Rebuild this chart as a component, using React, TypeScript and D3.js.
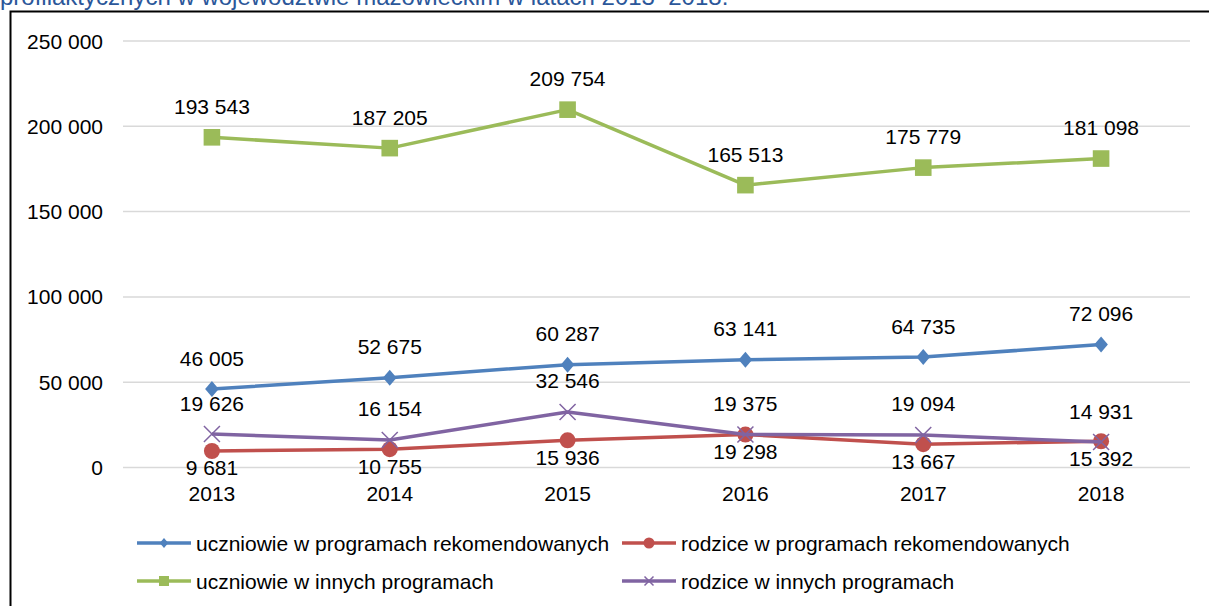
import React from 'react';
import * as d3 from 'd3';

const years = ['2013', '2014', '2015', '2016', '2017', '2018'];
const uczniowieRekom = [46005, 52675, 60287, 63141, 64735, 72096];
const rodziceRekom = [9681, 10755, 15936, 19298, 13667, 15392];
const uczniowieInne = [193543, 187205, 209754, 165513, 175779, 181098];
const rodziceInne = [19626, 16154, 32546, 19375, 19094, 14931];
const yTicks = [0, 50000, 100000, 150000, 200000, 250000];

const series = [
  { name: 'uczniowie w programach rekomendowanych', values: uczniowieRekom, color: '#4F81BD', marker: 'diamond', label: 'above' },
  { name: 'rodzice w programach rekomendowanych', values: rodziceRekom, color: '#C0504D', marker: 'circle', label: 'below' },
  { name: 'uczniowie w innych programach', values: uczniowieInne, color: '#9BBB59', marker: 'square', label: 'above' },
  { name: 'rodzice w innych programach', values: rodziceInne, color: '#8064A2', marker: 'x', label: 'above' },
];

const W = 1209;
const H = 606;
const FONT = '"Liberation Sans", Arial, sans-serif';

// thousands separated by a space, like the source
const fmt = (v: number) => d3.format(',')(v).replace(/,/g, ' ');

const Marker = ({ type, x, y, s, color }: { type: string; x: number; y: number; s: number; color: string }) => {
  if (type === 'diamond') {
    const w = s * 0.85;
    return <path d={`M${x},${y - s} L${x + w},${y} L${x},${y + s} L${x - w},${y} Z`} fill={color} />;
  }
  if (type === 'circle') return <circle cx={x} cy={y} r={s} fill={color} />;
  if (type === 'square') return <rect x={x - s} y={y - s} width={s * 2} height={s * 2} fill={color} />;
  return (
    <path
      d={`M${x - s},${y - s} L${x + s},${y + s} M${x - s},${y + s} L${x + s},${y - s}`}
      stroke={color}
      strokeWidth={1.5}
      fill="none"
    />
  );
};

const markerSize: Record<string, number> = { diamond: 8, circle: 8, square: 8.3, x: 8 };
const legendSize: Record<string, number> = { diamond: 5, circle: 5.5, square: 5, x: 4.5 };

export default function App() {
  const x = d3.scaleBand<string>().domain(years).range([123, 1190]);
  const cx = (d: string) => (x(d) ?? 0) + x.bandwidth() / 2;
  const y = d3.scaleLinear().domain([0, 250000]).range([467.5, 41]);

  const line = d3
    .line<number>()
    .x((_, i) => cx(years[i]))
    .y((v) => y(v));

  const legendItems = [
    { s: series[0], lx: 137, ly: 543 },
    { s: series[1], lx: 622, ly: 543 },
    { s: series[2], lx: 137, ly: 581 },
    { s: series[3], lx: 622, ly: 581 },
  ];

  return (
    <svg
      width={W}
      height={H}
      style={{ position: 'absolute', left: 0, top: 0, background: '#fff' }}
      fontFamily={FONT}
    >
      <rect width={W} height={H} fill="#fff" />
      {/* cut-off caption from the page above */}
      <text x={0} y={5} fontSize={24} fill="#2B579A">
        profilaktycznych w województwie mazowieckim w latach 2013–2018.
      </text>

      {/* frame */}
      <path d={`M10.5,${H} L10.5,11.5 L${W},11.5`} stroke="#000" strokeWidth={2} fill="none" />

      {/* grid + y labels */}
      {yTicks.map((t) => (
        <g key={t}>
          <line x1={123} x2={1190} y1={y(t)} y2={y(t)} stroke="#D9D9D9" strokeWidth={1.5} />
          <text x={103} y={y(t)} fontSize={21} textAnchor="end" dominantBaseline="central" fill="#000">
            {fmt(t)}
          </text>
        </g>
      ))}

      {/* x labels */}
      {years.map((yr) => (
        <text key={yr} x={cx(yr)} y={493} fontSize={21} textAnchor="middle" dominantBaseline="central" fill="#000">
          {yr}
        </text>
      ))}

      {/* lines and markers */}
      {series.map((s) => (
        <g key={s.name}>
          <path d={line(s.values) ?? ''} fill="none" stroke={s.color} strokeWidth={3.5} strokeLinejoin="round" />
          {s.values.map((v, i) => (
            <Marker key={i} type={s.marker} x={cx(years[i])} y={y(v)} s={markerSize[s.marker]} color={s.color} />
          ))}
        </g>
      ))}

      {/* data labels */}
      {series.map((s) =>
        s.values.map((v, i) => (
          <text
            key={s.name + i}
            x={cx(years[i])}
            y={y(v) + (s.label === 'above' ? -31 : 17)}
            fontSize={21}
            textAnchor="middle"
            dominantBaseline="central"
            fill="#000"
          >
            {fmt(v)}
          </text>
        ))
      )}

      {/* legend */}
      {legendItems.map(({ s, lx, ly }) => (
        <g key={s.name}>
          <line x1={lx} x2={lx + 54} y1={ly} y2={ly} stroke={s.color} strokeWidth={3.5} />
          <Marker type={s.marker} x={lx + 27} y={ly} s={legendSize[s.marker]} color={s.color} />
          <text x={lx + 59} y={ly} fontSize={21} dominantBaseline="central" fill="#000">
            {s.name}
          </text>
        </g>
      ))}
    </svg>
  );
}
